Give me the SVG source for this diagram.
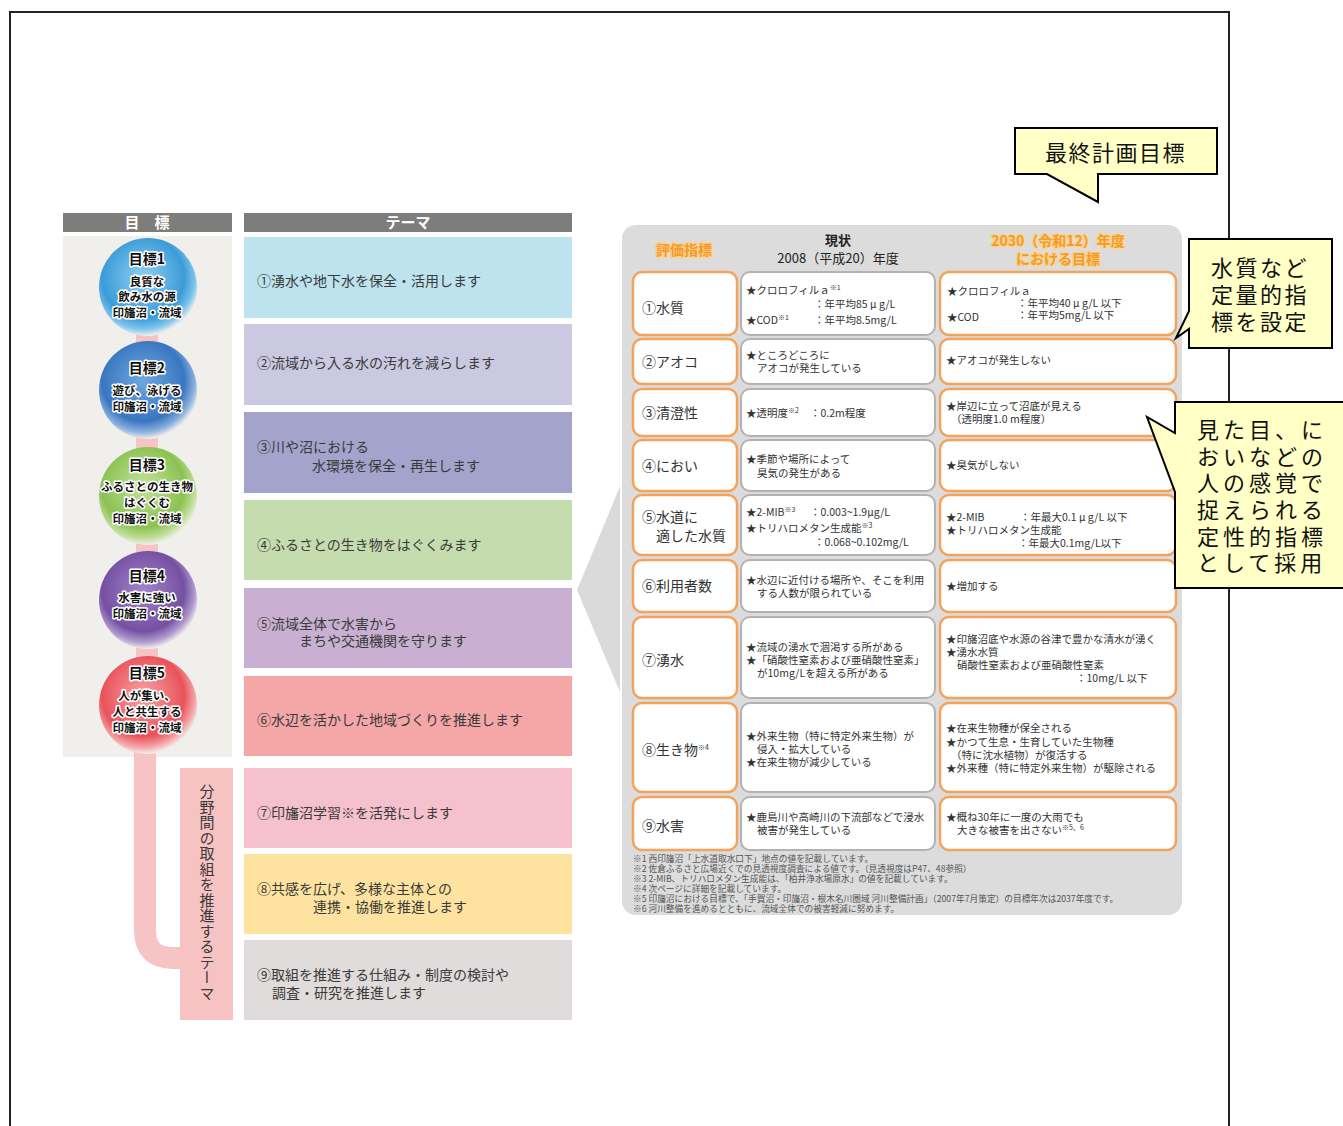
<svg xmlns="http://www.w3.org/2000/svg" width="1343" height="1126" viewBox="0 0 1343 1126">
<style>
text{font-family:"Noto Sans CJK JP","Noto Sans",sans-serif}
.hd{fill:#fff;font-weight:bold;font-size:15px}
.th{font-size:14px;fill:#3a3a3a}
.ct{font-weight:bold;fill:#111;stroke:#fff;stroke-width:3;paint-order:stroke;stroke-linejoin:round;text-anchor:middle}
.c1{fill:#fff;stroke:#f4a35c;stroke-width:2.5}
.c2{fill:#fff;stroke:#b2b2b2;stroke-width:2}
.t1{font-size:14px;fill:#333}
.t2{font-size:10.5px;fill:#333}
.sup{font-size:7px}
.fn{font-size:8.7px;fill:#555}
.org{font-size:14px;font-weight:bold;fill:#f39a2c;stroke:#ffd28a;stroke-width:2.5;paint-order:stroke;stroke-linejoin:round;text-anchor:middle}
.co{fill:#ffffc6;stroke:#000;stroke-width:2}
.cot{font-size:22px;fill:#111}
</style>
<defs>
<radialGradient id="g1" cx="0.45" cy="0.4" r="0.6"><stop offset="0" stop-color="#8fd1f1"/><stop offset="0.7" stop-color="#3b9bd8"/><stop offset="0.88" stop-color="#7cc4ec"/><stop offset="1" stop-color="#f1efec"/></radialGradient>
<radialGradient id="g2" cx="0.45" cy="0.4" r="0.6"><stop offset="0" stop-color="#6ea8df"/><stop offset="0.7" stop-color="#3a76c0"/><stop offset="0.88" stop-color="#8ab1de"/><stop offset="1" stop-color="#f1efec"/></radialGradient>
<radialGradient id="g3" cx="0.45" cy="0.4" r="0.6"><stop offset="0" stop-color="#c4e39a"/><stop offset="0.7" stop-color="#8cc152"/><stop offset="0.88" stop-color="#bedd96"/><stop offset="1" stop-color="#f1efec"/></radialGradient>
<radialGradient id="g4" cx="0.45" cy="0.4" r="0.6"><stop offset="0" stop-color="#a083c9"/><stop offset="0.7" stop-color="#7550a2"/><stop offset="0.88" stop-color="#b09acf"/><stop offset="1" stop-color="#f1efec"/></radialGradient>
<radialGradient id="g5" cx="0.45" cy="0.4" r="0.6"><stop offset="0" stop-color="#f7a3a6"/><stop offset="0.7" stop-color="#e9525a"/><stop offset="0.88" stop-color="#f4a2a6"/><stop offset="1" stop-color="#f1efec"/></radialGradient>
</defs>

<rect id="frame" x="10" y="12" width="1219" height="1130" fill="none" stroke="#222" stroke-width="2"/>

<!-- left panel -->
<g id="goal-header"><rect x="63" y="213" width="169" height="19" fill="#7f7d7c"/><text class="hd" x="147" y="228" text-anchor="middle">目　標</text></g>
<g id="theme-header"><rect x="244" y="213" width="328" height="19" fill="#7f7d7c"/><text class="hd" x="408" y="228" text-anchor="middle" font-size="14">テーマ</text></g>
<rect id="goal-bg" x="63" y="236" width="169" height="521" fill="#f1efec"/>

<g id="connectors">
<rect x="136" y="300" width="22" height="440" fill="#f6c4c4"/>
<path d="M145,750 V930 Q145,958 173,958 H182" fill="none" stroke="#f6c4c4" stroke-width="22"/>
</g>

<g id="goal1"><circle cx="148" cy="287" r="49" fill="url(#g1)"/>
<text class="ct" x="147" y="264" font-size="14">目標1</text>
<text class="ct" font-size="11.5"><tspan x="147" y="286">良質な</tspan><tspan x="147" y="301">飲み水の源</tspan><tspan x="147" y="317">印旛沼・流域</tspan></text></g>
<g id="goal2"><circle cx="148" cy="390" r="49" fill="url(#g2)"/>
<text class="ct" x="147" y="373" font-size="14">目標2</text>
<text class="ct" font-size="11.5"><tspan x="147" y="395">遊び、泳げる</tspan><tspan x="147" y="411">印旛沼・流域</tspan></text></g>
<g id="goal3"><circle cx="148" cy="496" r="49" fill="url(#g3)"/>
<text class="ct" x="147" y="470" font-size="14">目標3</text>
<text class="ct" font-size="11.5"><tspan x="147" y="491">ふるさとの生き物</tspan><tspan x="147" y="507">はぐくむ</tspan><tspan x="147" y="523">印旛沼・流域</tspan></text></g>
<g id="goal4"><circle cx="148" cy="600" r="49" fill="url(#g4)"/>
<text class="ct" x="147" y="581" font-size="14">目標4</text>
<text class="ct" font-size="11.5"><tspan x="147" y="602">水害に強い</tspan><tspan x="147" y="618">印旛沼・流域</tspan></text></g>
<g id="goal5"><circle cx="148" cy="705" r="49" fill="url(#g5)"/>
<text class="ct" x="147" y="678" font-size="14">目標5</text>
<text class="ct" font-size="11.5"><tspan x="147" y="700">人が集い、</tspan><tspan x="147" y="716">人と共生する</tspan><tspan x="147" y="732">印旛沼・流域</tspan></text></g>

<g id="cross-label"><rect x="180" y="768" width="53" height="252" fill="#f6c2c2"/>
<text x="207" y="784" font-size="15" fill="#3a3a3a" style="writing-mode:vertical-rl" letter-spacing="0.5">分野間の取組を推進するテーマ</text></g>

<g id="theme1"><rect x="244" y="237" width="328" height="81" fill="#bde3ee"/><text class="th" x="257" y="286">①湧水や地下水を保全・活用します</text></g>
<g id="theme2"><rect x="244" y="324" width="328" height="81" fill="#cbc8e1"/><text class="th" x="257" y="368">②流域から入る水の汚れを減らします</text></g>
<g id="theme3"><rect x="244" y="412" width="328" height="81" fill="#a4a3cc"/><text class="th"><tspan x="257" y="452">③川や沼における</tspan><tspan x="312" y="471">水環境を保全・再生します</tspan></text></g>
<g id="theme4"><rect x="244" y="500" width="328" height="80" fill="#c5dcae"/><text class="th" x="257" y="550">④ふるさとの生き物をはぐくみます</text></g>
<g id="theme5"><rect x="244" y="588" width="328" height="80" fill="#c9b0d3"/><text class="th"><tspan x="257" y="629">⑤流域全体で水害から</tspan><tspan x="299" y="646">まちや交通機関を守ります</tspan></text></g>
<g id="theme6"><rect x="244" y="676" width="328" height="80" fill="#f4a7a6"/><text class="th" x="257" y="725">⑥水辺を活かした地域づくりを推進します</text></g>
<g id="theme7"><rect x="244" y="768" width="328" height="80" fill="#f5c1cf"/><text class="th" x="257" y="818">⑦印旛沼学習※を活発にします</text></g>
<g id="theme8"><rect x="244" y="854" width="328" height="80" fill="#fde39f"/><text class="th"><tspan x="257" y="894">⑧共感を広げ、多様な主体との</tspan><tspan x="313" y="912">連携・協働を推進します</tspan></text></g>
<g id="theme9"><rect x="244" y="940" width="328" height="80" fill="#dfdcdb"/><text class="th"><tspan x="257" y="980">⑨取組を推進する仕組み・制度の検討や</tspan><tspan x="272" y="998">調査・研究を推進します</tspan></text></g>

<path id="big-arrow" d="M620,486 Q598,540 577,590 Q598,640 620,692 Z" fill="#dadada"/>

<!-- table -->
<g id="table">
<rect x="622" y="225" width="560" height="690" rx="14" fill="#dcdcdc"/>
<text class="org" x="684" y="255">評価指標</text>
<text x="838" y="245" font-size="13" font-weight="bold" fill="#222" text-anchor="middle">現状</text>
<text x="838" y="263" font-size="13" fill="#222" text-anchor="middle">2008（平成20）年度</text>
<text class="org"><tspan x="1058" y="246">2030（令和12）年度</tspan><tspan x="1058" y="264">における目標</tspan></text>

<g id="row1"><rect class="c1" x="633" y="272" width="104" height="63" rx="9"/><rect class="c2" x="741" y="272" width="194" height="63" rx="9"/><rect class="c1" x="940" y="272" width="236" height="63" rx="9"/>
<text class="t1" x="642" y="313">①水質</text>
<text class="t2"><tspan x="746" y="294">★クロロフィルａ</tspan><tspan class="sup" dy="-4">※1</tspan><tspan x="814" y="308">：年平均85 μ g/L</tspan><tspan x="746" y="324">★COD</tspan><tspan class="sup" dy="-4">※1</tspan><tspan x="814" y="324">：年平均8.5mg/L</tspan></text>
<text class="t2"><tspan x="947" y="295">★クロロフィルａ</tspan><tspan x="1017" y="307">：年平均40 μ g/L 以下</tspan><tspan x="947" y="321">★COD</tspan><tspan x="1017" y="319">：年平均5mg/L 以下</tspan></text></g>

<g id="row2"><rect class="c1" x="633" y="339" width="104" height="45" rx="9"/><rect class="c2" x="741" y="339" width="194" height="45" rx="9"/><rect class="c1" x="940" y="339" width="236" height="45" rx="9"/>
<text class="t1" x="642" y="367">②アオコ</text>
<text class="t2"><tspan x="746" y="359">★ところどころに</tspan><tspan x="757" y="372">アオコが発生している</tspan></text>
<text class="t2" x="946" y="364">★アオコが発生しない</text></g>

<g id="row3"><rect class="c1" x="633" y="389" width="104" height="47" rx="9"/><rect class="c2" x="741" y="389" width="194" height="47" rx="9"/><rect class="c1" x="940" y="389" width="236" height="47" rx="9"/>
<text class="t1" x="642" y="418">③清澄性</text>
<text class="t2"><tspan x="746" y="417">★透明度</tspan><tspan class="sup" dy="-4">※2</tspan><tspan x="810" y="417">：0.2m程度</tspan></text>
<text class="t2"><tspan x="946" y="410">★岸辺に立って沼底が見える</tspan><tspan x="951" y="423">（透明度1.0 m程度）</tspan></text></g>

<g id="row4"><rect class="c1" x="633" y="440" width="104" height="51" rx="9"/><rect class="c2" x="741" y="440" width="194" height="51" rx="9"/><rect class="c1" x="940" y="440" width="236" height="51" rx="9"/>
<text class="t1" x="642" y="471">④におい</text>
<text class="t2"><tspan x="746" y="463">★季節や場所によって</tspan><tspan x="757" y="477">臭気の発生がある</tspan></text>
<text class="t2" x="946" y="469">★臭気がしない</text></g>

<g id="row5"><rect class="c1" x="633" y="495" width="104" height="60" rx="9"/><rect class="c2" x="741" y="495" width="194" height="60" rx="9"/><rect class="c1" x="940" y="495" width="236" height="60" rx="9"/>
<text class="t1"><tspan x="642" y="522">⑤水道に</tspan><tspan x="656" y="541">適した水質</tspan></text>
<text class="t2"><tspan x="746" y="516">★2-MIB</tspan><tspan class="sup" dy="-4">※3</tspan><tspan x="810" y="516">：0.003~1.9μg/L</tspan><tspan x="746" y="532">★トリハロメタン生成能</tspan><tspan class="sup" dy="-4">※3</tspan><tspan x="814" y="546">：0.068~0.102mg/L</tspan></text>
<text class="t2"><tspan x="946" y="521">★2-MIB</tspan><tspan x="1020" y="521">：年最大0.1 μ g/L 以下</tspan><tspan x="946" y="534">★トリハロメタン生成能</tspan><tspan x="1018" y="547">：年最大0.1mg/L以下</tspan></text></g>

<g id="row6"><rect class="c1" x="633" y="560" width="104" height="52" rx="9"/><rect class="c2" x="741" y="560" width="194" height="52" rx="9"/><rect class="c1" x="940" y="560" width="236" height="52" rx="9"/>
<text class="t1" x="642" y="591">⑥利用者数</text>
<text class="t2"><tspan x="746" y="584">★水辺に近付ける場所や、そこを利用</tspan><tspan x="757" y="597">する人数が限られている</tspan></text>
<text class="t2" x="946" y="590">★増加する</text></g>

<g id="row7"><rect class="c1" x="633" y="617" width="104" height="81" rx="9"/><rect class="c2" x="741" y="617" width="194" height="81" rx="9"/><rect class="c1" x="940" y="617" width="236" height="81" rx="9"/>
<text class="t1" x="642" y="665">⑦湧水</text>
<text class="t2"><tspan x="746" y="651">★流域の湧水で涸渇する所がある</tspan><tspan x="746" y="664">★「硝酸性窒素および亜硝酸性窒素」</tspan><tspan x="757" y="677">が10mg/Lを超える所がある</tspan></text>
<text class="t2"><tspan x="946" y="643">★印旛沼底や水源の谷津で豊かな清水が湧く</tspan><tspan x="946" y="656">★湧水水質</tspan><tspan x="957" y="669">硝酸性窒素および亜硝酸性窒素</tspan><tspan x="1076" y="682">：10mg/L 以下</tspan></text></g>

<g id="row8"><rect class="c1" x="633" y="703" width="104" height="89" rx="9"/><rect class="c2" x="741" y="703" width="194" height="89" rx="9"/><rect class="c1" x="940" y="703" width="236" height="89" rx="9"/>
<text class="t1" x="642" y="755">⑧生き物<tspan class="sup" font-size="8" dy="-5">※4</tspan></text>
<text class="t2"><tspan x="746" y="740">★外来生物（特に特定外来生物）が</tspan><tspan x="757" y="753">侵入・拡大している</tspan><tspan x="746" y="766">★在来生物が減少している</tspan></text>
<text class="t2"><tspan x="946" y="732">★在来生物種が保全される</tspan><tspan x="946" y="746">★かつて生息・生育していた生物種</tspan><tspan x="951" y="759">（特に沈水植物）が復活する</tspan><tspan x="946" y="772">★外来種（特に特定外来生物）が駆除される</tspan></text></g>

<g id="row9"><rect class="c1" x="633" y="797" width="104" height="53" rx="9"/><rect class="c2" x="741" y="797" width="194" height="53" rx="9"/><rect class="c1" x="940" y="797" width="236" height="53" rx="9"/>
<text class="t1" x="642" y="831">⑨水害</text>
<text class="t2"><tspan x="746" y="821">★鹿島川や高崎川の下流部などで浸水</tspan><tspan x="757" y="834">被害が発生している</tspan></text>
<text class="t2"><tspan x="946" y="821">★概ね30年に一度の大雨でも</tspan><tspan x="957" y="834">大きな被害を出さない</tspan><tspan class="sup" dy="-4">※5、6</tspan></text></g>

<text id="footnotes" class="fn"><tspan x="633" y="862">※1 西印旛沼「上水道取水口下」地点の値を記載しています。</tspan><tspan x="633" y="872">※2 佐倉ふるさと広場近くでの見透視度調査による値です。（見透視度はP47、48参照）</tspan><tspan x="633" y="882">※3 2-MIB、トリハロメタン生成能は、「柏井浄水場原水」の値を記載しています。</tspan><tspan x="633" y="892">※4 次ページに詳細を記載しています。</tspan><tspan x="633" y="902">※5 印旛沼における目標で、「手賀沼・印旛沼・根木名川圏域 河川整備計画」（2007年7月策定）の目標年次は2037年度です。</tspan><tspan x="633" y="912">※6 河川整備を進めるとともに、流域全体での被害軽減に努めます。</tspan></text>
</g>

<!-- callouts -->
<g id="callout-final">
<path class="co" d="M1015,128 H1217 V174 H1098 V202 L1047,174 H1015 Z"/>
<text class="cot" x="1045" y="161" letter-spacing="1.5">最終計画目標</text>
</g>
<g id="callout-quant">
<path class="co" d="M1189,239 H1332 V348 H1189 V329 L1176,338 L1189,311 Z"/>
<text class="cot" letter-spacing="2.5"><tspan x="1211" y="276">水質など</tspan><tspan x="1211" y="303">定量的指</tspan><tspan x="1211" y="330">標を設定</tspan></text>
</g>
<g id="callout-qual">
<path class="co" d="M1175,402 H1350 V588 H1175 V492 L1147,417 L1175,433 Z"/>
<text class="cot" letter-spacing="4"><tspan x="1197" y="438">見た目、に</tspan><tspan x="1197" y="465">おいなどの</tspan><tspan x="1197" y="491">人の感覚で</tspan><tspan x="1197" y="518">捉えられる</tspan><tspan x="1197" y="545">定性的指標</tspan><tspan x="1197" y="571">として採用</tspan></text>
</g>
</svg>
